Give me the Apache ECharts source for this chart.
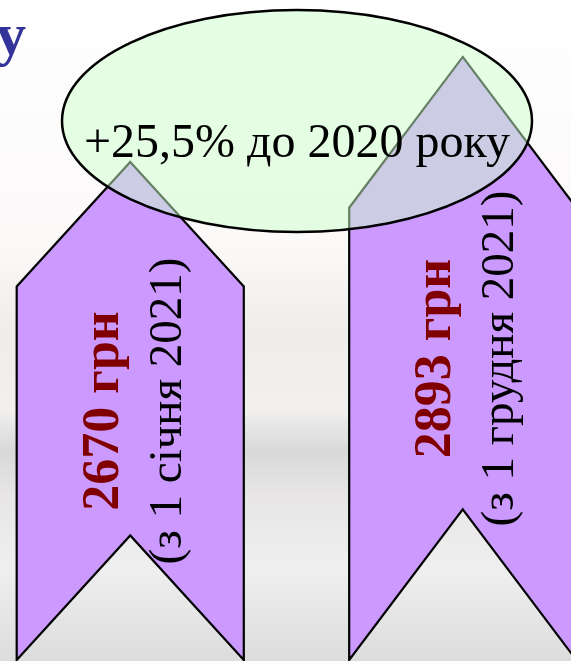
<!DOCTYPE html>
<html>
<head>
<meta charset="utf-8">
<script src="https://cdn.jsdelivr.net/npm/echarts@6/dist/echarts.min.js"></script>
<style>
  html, body { margin: 0; padding: 0; background: #fff; }
  #chart { width: 571px; height: 661px; }
</style>
</head>
<body>
<div id="chart"></div>
<script>
// дані
const categories = ['(з 1 січня 2021)', '(з 1 грудня 2021)'];
const values = [2670, 2893];
const valueLabels = ['2670 грн', '2893 грн'];
const noteText = '+25,5% до 2020 року';
const titleTail = 'у';

const serif = '"Liberation Serif", "Times New Roman", serif';
const yMin = 1612, yMax = 3014;
const xMin = -0.3917, xMax = 1.3256;

// шеврон + підписи
const renderChevron = (params, api) => {
  const i = api.value(0);
  const tip = api.coord([i, api.value(1)]);
  const base = params.coordSys.y + params.coordSys.height;
  const cx = tip[0];
  const hw = api.size([0.683, 0])[0] / 2;
  const depth = (base - tip[1]) * 0.25;
  const pts = [
    [cx, tip[1]], [cx + hw, tip[1] + depth], [cx + hw, base],
    [cx, base - depth], [cx - hw, base], [cx - hw, tip[1] + depth]
  ];
  return {
    type: 'group',
    children: [
      {
        type: 'polygon',
        shape: { points: pts },
        style: { fill: '#CC99FF', stroke: '#000', lineWidth: 2.2 }
      },
      {
        type: 'text',
        x: cx + 6,
        y: (tip[1] + base) / 2,
        rotation: Math.PI / 2,
        style: {
          text: '{b|' + valueLabels[i] + '}\n{n|' + categories[i] + '}',
          x: 0, y: 0,
          align: 'center',
          verticalAlign: 'middle',
          rich: {
            b: { font: 'bold 52px ' + serif, fill: '#800000', lineHeight: 64 },
            n: { font: '47px ' + serif, fill: '#000', lineHeight: 64 }
          }
        }
      }
    ]
  };
};

const chart = echarts.init(document.getElementById('chart'));
chart.setOption({
  animation: false,
  grid: { left: 0, right: 0, top: 0, bottom: 1 },
  xAxis: { type: 'value', min: xMin, max: xMax, show: false },
  yAxis: { type: 'value', min: yMin, max: yMax, show: false },
  graphic: [
    {
      type: 'rect', z: -10, silent: true,
      shape: { x: 0, y: 0, width: 571, height: 661 },
      style: {
        fill: new echarts.graphic.LinearGradient(0, 0, 0, 1, [
          { offset: 0, color: '#ffffff' },
          { offset: 0.38, color: '#fbf9f8' },
          { offset: 0.5, color: '#efedec' },
          { offset: 0.62, color: '#f1f0ef' },
          { offset: 0.68, color: '#d9d9d9' },
          { offset: 0.75, color: '#e7e5e5' },
          { offset: 0.86, color: '#f0efef' },
          { offset: 1, color: '#dcdcdc' }
        ])
      }
    },
    {
      type: 'text', z: 50,
      x: 26, y: 38,
      style: { text: titleTail, font: 'bold 60px ' + serif, fill: '#333399', align: 'right', verticalAlign: 'middle' }
    },
    {
      type: 'ellipse', z: 100,
      shape: { cx: 297, cy: 121, rx: 235, ry: 111 },
      style: { fill: 'rgba(204,255,204,0.5)', stroke: '#000', lineWidth: 2.5 }
    },
    {
      type: 'text', z: 101,
      x: 297, y: 144,
      style: { text: noteText, font: '48px ' + serif, fill: '#000', align: 'center', verticalAlign: 'middle' }
    }
  ],
  series: [{
    type: 'custom',
    renderItem: renderChevron,
    data: values.map((v, i) => [i, v])
  }]
});
</script>
</body>
</html>
